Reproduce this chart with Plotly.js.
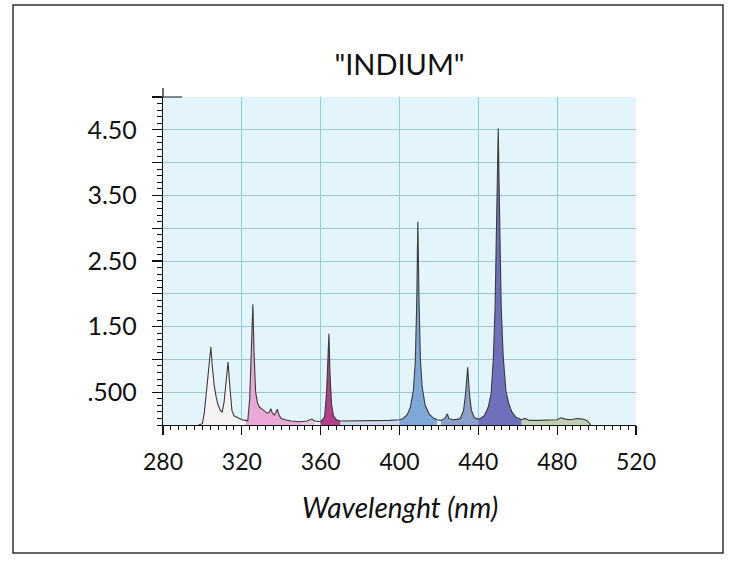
<!DOCTYPE html>
<html>
<head>
<meta charset="utf-8">
<script src="https://cdn.plot.ly/plotly-3.0.1.min.js"></script>
<style>html,body{margin:0;padding:0;background:#fff;}#chart{width:737px;height:571px;}</style>
</head>
<body>
<div id="chart"></div>
<script>
// Wavelength (nm) and intensity
const wavelength = [298,300,301,302,303,304.3,305,306,307,308,309,310,311,312,313,314,315,316,318,320,322,
  323,324,325,325.6,326.2,327,328,329,330,331,332,333,334,334.7,335.5,336.5,337.5,338,339,340,342,345,350,353,355.5,357,
  360,362,363,363.6,364.2,364.7,365.5,366.5,368,370,375,380,385,390,395,
  400,402,404,405.5,407,408,408.7,409.3,409.9,410.6,411.5,413,415,417,419,421,423,424.3,425,427,430,
  431,432.5,433.5,434.6,435.5,436.5,438,440,
  441,443,445,446.5,447.6,448.5,449.2,450.1,450.9,451.6,452.6,454,455.5,457,459,462,463.6,466,470,475,480,482,484,487,490,493,495,496,497];
const intensity = [0,0.02,0.2,0.5,0.85,1.19,0.9,0.6,0.42,0.3,0.23,0.19,0.35,0.7,0.96,0.55,0.22,0.14,0.11,0.08,0.07,
  0.06,0.4,1.2,1.84,1.1,0.5,0.33,0.27,0.25,0.22,0.2,0.18,0.2,0.25,0.18,0.15,0.2,0.24,0.14,0.1,0.08,0.06,0.05,0.06,0.09,0.06,
  0.05,0.12,0.5,0.9,1.39,0.8,0.32,0.14,0.08,0.06,0.06,0.06,0.07,0.07,0.07,
  0.08,0.1,0.16,0.27,0.52,0.95,1.8,3.1,1.9,1.0,0.58,0.3,0.17,0.11,0.08,0.07,0.1,0.17,0.1,0.08,0.09,
  0.11,0.22,0.47,0.88,0.47,0.22,0.11,0.09,
  0.1,0.14,0.27,0.48,1.0,1.8,2.8,4.52,3.0,1.8,1.05,0.52,0.32,0.2,0.12,0.08,0.1,0.07,0.07,0.07,0.08,0.11,0.09,0.08,0.1,0.09,0.07,0.04,0];
const xTickVals = [280,320,360,400,440,480,520];
const xTickText = ['280','320','360','400','440','480','520'];
const yTickVals = [0.5,1,1.5,2,2.5,3,3.5,4,4.5,5];
const yTickText = ['.500','','1.50','','2.50','','3.50','','4.50',''];

// colour bands of the filled spectrum (style)
const bandEdges = [298,322,350,358,370,400,420,440,462,497];
const bandColors = ['#f6f1f5','#e9a8d5','#e6c8dd','#b4408a','#cfd8ea','#7ea8d8','#8ca0cd','#6f70bd','#c3cfb3'];

const traces = [];
for (let b = 0; b < bandColors.length; b++) {
  const xs = [], ys = [];
  for (let i = 0; i < wavelength.length; i++) {
    if (wavelength[i] >= bandEdges[b] && wavelength[i] <= bandEdges[b+1]) { xs.push(wavelength[i]); ys.push(intensity[i]); }
  }
  traces.push({x: xs, y: ys, type: 'scatter', mode: 'lines', fill: 'tozeroy',
    fillcolor: bandColors[b], line: {width: 0, color: bandColors[b]}, hoverinfo: 'skip', showlegend: false});
}
traces.push({x: wavelength, y: intensity, type: 'scatter', mode: 'lines',
  line: {color: '#3c3c3c', width: 1.1}, showlegend: false});

const font = 'Lato, "Open Sans", sans-serif';
const L = 163, R = 101, T = 97, B = 146;
const W = 737 - L - R, H = 571 - T - B;
const px = v => (v - L) / W, py = v => (571 - B - v) / H;
const layout = {
  width: 737, height: 571,
  margin: {l: L, r: R, t: T, b: B},
  paper_bgcolor: '#ffffff', plot_bgcolor: '#e3f4fa',
  showlegend: false,
  title: {text: '"INDIUM"', font: {family: font, size: 29, color: '#111'}, x: 0.5, xref: 'paper', xanchor: 'center', y: 1 - 65/571, yanchor: 'middle'},
  xaxis: {range: [280, 520], tickmode: 'array', tickvals: xTickVals, ticktext: xTickText,
    showgrid: true, gridcolor: '#86cfe2', gridwidth: 1,
    showline: true, linecolor: '#111', linewidth: 1.2, zeroline: false,
    ticks: 'outside', ticklen: 9, tickcolor: '#111', tickwidth: 1.2,
    tickfont: {family: font, size: 23, color: '#111'}, ticklabelstandoff: 7,
    minor: {tickmode: 'linear', tick0: 280, dtick: 4, ticks: 'outside', ticklen: 4, tickcolor: '#111', tickwidth: 1, showgrid: false}},
  yaxis: {range: [0, 5], tickmode: 'array', tickvals: yTickVals, ticktext: yTickText,
    showgrid: true, gridcolor: '#9fc6d0', gridwidth: 1,
    showline: true, linecolor: '#111', linewidth: 1.2, zeroline: false,
    ticks: 'outside', ticklen: 10, tickcolor: '#111', tickwidth: 1.2,
    tickfont: {family: font, size: 25, color: '#111'}, ticklabelstandoff: 10,
    minor: {tickmode: 'linear', tick0: 0, dtick: 0.1, ticks: 'outside', ticklen: 5, tickcolor: '#111', tickwidth: 1, showgrid: false}},
  annotations: [
    {text: 'Wavelenght (nm)', xref: 'paper', yref: 'paper', x: px(400), y: py(507), xanchor: 'center', yanchor: 'middle', showarrow: false,
      font: {family: font, size: 28, color: '#111', style: 'italic'}}
  ],
  shapes: [
    {type: 'rect', xref: 'paper', yref: 'paper', x0: px(13), x1: px(723), y0: py(553), y1: py(5), line: {color: '#333', width: 1.5}, layer: 'below'},
    {type: 'line', xref: 'paper', yref: 'paper', x0: 0, x1: 0, y0: 1, y1: py(88), line: {color: '#111', width: 1.2}},
    {type: 'line', xref: 'paper', yref: 'paper', x0: 0, x1: px(182), y0: 1, y1: 1, line: {color: '#111', width: 1}}
  ]
};
Plotly.newPlot('chart', traces, layout, {displayModeBar: false, staticPlot: true});
</script>
</body>
</html>
